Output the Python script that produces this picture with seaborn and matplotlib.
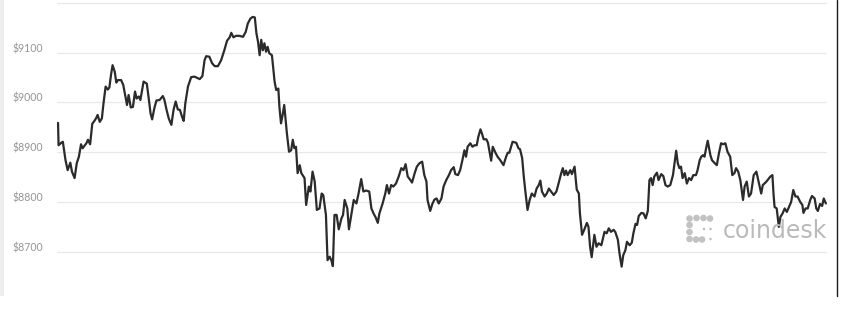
import matplotlib
matplotlib.use("Agg")
import matplotlib.pyplot as plt
import matplotlib.transforms as mtransforms
from matplotlib.patches import Rectangle, Circle
from matplotlib.lines import Line2D
import pandas as pd
import seaborn as sns

# minutes since start of the 24h window
times = [1,2,7,10,15,19,24,27,32,36,
40,44,47,54,57,61,65,69,72,75,
79,83,86,90,94,97,100,103,107,110,
113,119,123,127,130,133,137,141,145,148,
152,155,161,167,171,174,177,181,185,191,
197,200,204,208,213,217,221,225,229,233,
236,239,244,250,256,266,271,275,278,284,
289,294,300,306,312,317,322,325,329,334,
340,347,352,356,361,365,369,372,375,378,
381,384,387,390,393,396,401,406,409,413,
415,418,421,424,429,433,437,440,443,446,
449,453,456,462,465,470,473,477,481,485,
490,494,497,502,505,509,512,515,518,522,
526,531,534,537,542,545,554,559,563,568,
572,577,583,587,591,595,599,602,608,613,
616,620,624,628,633,638,643,647,651,655,
660,663,668,672,677,682,686,690,692,697,
701,705,709,713,718,722,727,732,736,741,
744,749,753,757,761,764,767,772,776,780,
784,787,791,794,797,802,805,808,811,814,
819,823,828,834,839,842,845,851,858,862,
865,869,872,875,879,883,887,892,896,900,
903,906,911,915,919,923,928,933,937,942,
945,948,951,954,959,962,967,971,975,977,
981,985,990,993,996,999,1004,1008,1012,1017,
1023,1027,1031,1035,1040,1043,1048,1051,1055,1058,
1062,1065,1070,1074,1077,1081,1084,1087,1092,1096,
1100,1104,1107,1110,1113,1116,1121,1124,1129,1133,
1137,1141,1146,1151,1154,1157,1160,1163,1166,1169,
1173,1177,1181,1185,1189,1194,1197,1201,1204,1207,
1210,1213,1216,1221,1224,1229,1233,1237,1241,1245,
1249,1253,1258,1262,1266,1269,1273,1277,1282,1285,
1289,1293,1297,1302,1307,1311,1316,1319,1324,1328,
1333,1337,1339,1341,1345,1349,1352,1356,1360,1364,
1368,1372,1376,1380,1384,1389,1393,1395,1399,1403,
1408,1411,1416,1419,1422,1426,1430,1433,1437]

# price in USD
prices = [8959,8914,8919,8921,8884,8864,8879,8861,8848,8878,
8891,8916,8908,8918,8925,8916,8957,8963,8968,8975,
8961,8968,8998,9032,9026,9030,9055,9075,9062,9040,
9045,9045,9035,9012,8995,9015,8990,8991,9022,9008,
9012,9005,9042,9038,9005,8978,8966,8988,9004,9005,
9013,9005,8985,8968,8955,8985,9002,8986,8985,8971,
8963,8998,9032,9051,9052,9047,9053,9085,9093,9092,
9079,9073,9073,9085,9105,9124,9131,9140,9131,9134,
9134,9132,9142,9159,9169,9172,9171,9139,9122,9095,
9126,9105,9119,9102,9112,9099,9095,9042,9025,9028,
8991,8958,8975,8995,8938,8901,8904,8925,8908,8911,
8858,8874,8858,8848,8794,8831,8821,8861,8841,8784,
8787,8817,8814,8774,8683,8690,8683,8671,8774,8774,
8745,8767,8774,8804,8787,8745,8804,8797,8817,8846,
8821,8823,8821,8787,8777,8769,8758,8777,8797,8817,
8834,8817,8834,8831,8837,8851,8868,8864,8876,8851,
8844,8839,8858,8871,8878,8881,8854,8841,8804,8782,
8796,8805,8807,8797,8807,8831,8844,8854,8864,8870,
8856,8854,8864,8883,8904,8891,8911,8918,8911,8914,
8914,8931,8946,8937,8926,8926,8919,8901,8883,8911,
8899,8891,8884,8874,8891,8899,8899,8921,8919,8908,
8906,8888,8851,8821,8784,8804,8817,8811,8827,8834,
8843,8821,8811,8817,8827,8821,8814,8821,8837,8858,
8868,8854,8863,8854,8864,8856,8871,8825,8817,8777,
8734,8744,8758,8750,8710,8689,8734,8710,8717,8713,
8740,8737,8747,8740,8744,8740,8724,8697,8670,8693,
8703,8720,8713,8718,8737,8756,8754,8772,8778,8777,
8767,8782,8844,8848,8834,8851,8859,8844,8856,8852,
8834,8831,8834,8854,8878,8903,8878,8868,8871,8848,
8858,8837,8848,8844,8854,8854,8864,8884,8891,8894,
8891,8908,8923,8894,8884,8878,8874,8898,8918,8916,
8918,8901,8891,8854,8858,8868,8861,8844,8804,8831,
8841,8811,8817,8854,8861,8841,8817,8834,8839,8844,
8851,8854,8817,8790,8787,8750,8770,8777,8787,8780,
8790,8800,8824,8811,8811,8800,8794,8778,8787,8787,
8805,8812,8807,8787,8782,8796,8792,8807,8797]

ytick_values = [8700, 8800, 8900, 9000, 9100, 9200]
ytick_labels = ["$8700", "$8800", "$8900", "$9000", "$9100", ""]
watermark = "coindesk"

assert len(times) == len(prices), (len(times), len(prices))
df = pd.DataFrame({"t": times, "price": prices})

sns.set_style("white")
plt.rcParams["font.family"] = ["Lato", "DejaVu Sans"]

W, H = 845, 309
fig = plt.figure(figsize=(W / 100, H / 100), dpi=100)
fig.patch.set_facecolor("white")
ax = fig.add_axes([57.5 / W, 13 / H, 770 / W, 296 / H])

sns.lineplot(data=df, x="t", y="price", ax=ax, color="#2b2b2b", linewidth=1.6)

ax.set_xlim(0, 1440)
ax.set_ylim(8611, 9206)
ax.set_yticks(ytick_values)
ax.set_yticklabels(ytick_labels)
ax.set_xticks([])
ax.set_xlabel("")
ax.set_ylabel("")
ax.grid(axis="y", color="#e8e8e8", linewidth=0.9)
ax.set_axisbelow(True)
for s in ax.spines.values():
    s.set_visible(False)
ax.tick_params(axis="y", length=0, pad=10.5, labelsize=7.6, labelcolor="#959595")
offset = mtransforms.ScaledTranslation(0, 5 / 100, fig.dpi_scale_trans)
for lab in ax.get_yticklabels():
    lab.set_transform(lab.get_transform() + offset)

# overlay in pixel space for frame decorations and watermark
ov = fig.add_axes([0, 0, 1, 1], facecolor="none")
ov.set_xlim(0, W)
ov.set_ylim(H, 0)
ov.axis("off")
ov.add_patch(Rectangle((0, 0), 4, 296, color="#eeeeee", lw=0))
ov.add_line(Line2D([837.3, 837.3], [0, 296], color="#1a1a1a", lw=1.0))

ov.text(827, 237.5, watermark, ha="right", va="baseline", fontsize=17,
        color="#bababa", family=["DejaVu Sans"])
big = [(689.5, 218.5), (696.5, 218), (703.5, 218), (710, 218.5),
       (689.5, 225), (689.5, 232), (689.5, 239), (696, 239.5), (702, 239.5)]
small = [(704, 229), (710.5, 229), (710.5, 239)]
for (cx, cy) in big:
    ov.add_patch(Circle((cx, cy), 3.3, color="#c2c2c2", lw=0))
for (cx, cy) in small:
    ov.add_patch(Circle((cx, cy), 1.3, color="#c2c2c2", lw=0))

fig.savefig("out.png", dpi=100, facecolor="white")
